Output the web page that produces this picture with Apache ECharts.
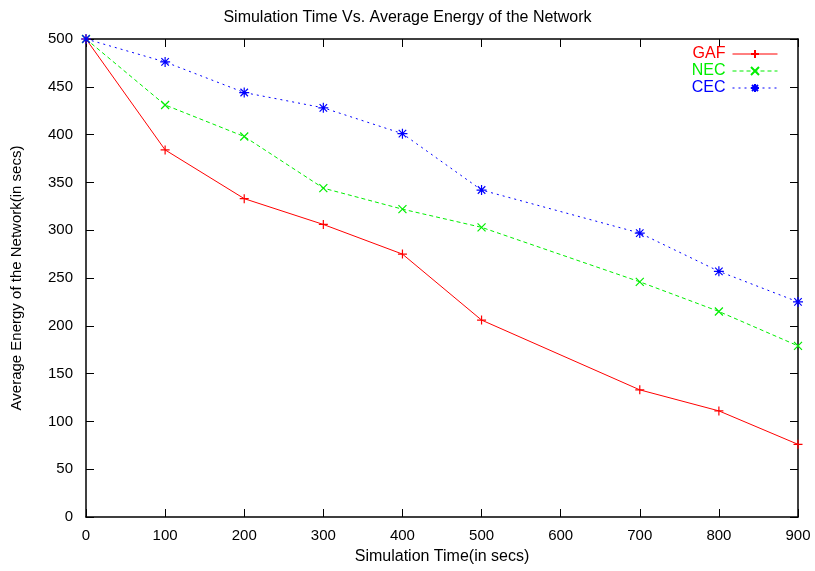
<!DOCTYPE html>
<html>
<head>
<meta charset="utf-8">
<script src="https://cdn.jsdelivr.net/npm/echarts@6/dist/echarts.min.js"></script>
<style>html,body{margin:0;padding:0;background:#fff}#c{width:815px;height:571px}</style>
</head>
<body>
<div id="c"></div>
<script>
var times = [0, 100, 200, 300, 400, 500, 700, 800, 900];
var gaf = [500, 384, 333, 306, 275, 206, 133, 111, 76];
var nec = [500, 431, 398, 344, 322, 303, 246, 215, 179];
var cec = [500, 476, 444, 428, 401, 342, 297, 257, 225];
var xTicks = [0, 100, 200, 300, 400, 500, 600, 700, 800, 900];
var yTicks = [0, 50, 100, 150, 200, 250, 300, 350, 400, 450, 500];

var FONT = 'Liberation Sans';
function pairs(vals) { return times.map(function (t, i) { return [t, vals[i]]; }); }

var plus = 'path://M0,-1L0,1M-1,0L1,0';
var cross = 'path://M-1,-1L1,1M-1,1L1,-1';
var star = 'path://M0,-1L0,1M-1,0L1,0M-0.75,-0.75L0.75,0.75M-0.75,0.75L0.75,-0.75';

function mkSeries(name, vals, color, type, sym, size) {
  return {
    name: name, type: 'line', data: pairs(vals),
    symbol: sym, symbolSize: size,
    showAllSymbol: true,
    itemStyle: { color: color, borderColor: color, borderWidth: 1.2 },
    lineStyle: { color: color, width: 1, type: type },
    emphasis: { disabled: true },
    animation: false
  };
}

var chart = echarts.init(document.getElementById('c'));
var axisCommon = {
  min: 0,
  axisLine: { show: true, onZero: false, lineStyle: { color: '#000', width: 1.5 } },
  axisTick: { show: true, inside: true, length: 8, lineStyle: { color: '#000', width: 1 } },
  splitLine: { show: false },
  axisLabel: { color: '#000', fontFamily: FONT, fontSize: 15 }
};
chart.setOption({
  animation: false,
  backgroundColor: '#fff',
  title: {
    text: 'Simulation Time Vs. Average Energy of the Network',
    left: 'center', top: 5,
    textStyle: { fontFamily: FONT, fontSize: 16, fontWeight: 'normal', color: '#000' }
  },
  legend: {
    orient: 'vertical', right: 32, top: 41, align: 'right',
    itemWidth: 45, itemHeight: 10, itemGap: 1,
    lineStyle: { width: 1 },
    textStyle: { fontFamily: FONT, fontSize: 16, padding: [0, 2, 0, 0] },
    data: [
      { name: 'GAF', textStyle: { color: '#ff0000' } },
      { name: 'NEC', textStyle: { color: '#00ee00' } },
      { name: 'CEC', textStyle: { color: '#0000ff' } }
    ]
  },
  grid: { left: 86, right: 17, top: 39, bottom: 54, containLabel: false },
  xAxis: [
    Object.assign({}, axisCommon, {
      type: 'value', max: 900, interval: 100,
      name: 'Simulation Time(in secs)', nameLocation: 'middle', nameGap: 32,
      nameTextStyle: { fontFamily: FONT, fontSize: 16, color: '#000' },
      axisLabel: Object.assign({}, axisCommon.axisLabel, { margin: 11, formatter: function (v) { return xTicks.indexOf(v) >= 0 ? String(v) : ''; } })
    }),
    Object.assign({}, axisCommon, {
      type: 'value', max: 900, interval: 100, position: 'top',
      axisLabel: { show: false }
    })
  ],
  yAxis: [
    Object.assign({}, axisCommon, {
      type: 'value', max: 500, interval: 50,
      name: 'Average Energy of the Network(in secs)', nameLocation: 'middle', nameGap: 62,
      nameTextStyle: { fontFamily: FONT, fontSize: 15, color: '#000' },
      axisLabel: Object.assign({}, axisCommon.axisLabel, { margin: 13, formatter: function (v) { return yTicks.indexOf(v) >= 0 ? String(v) : ''; } })
    }),
    Object.assign({}, axisCommon, {
      type: 'value', max: 500, interval: 50, position: 'right',
      axisLabel: { show: false }
    })
  ],
  series: [
    mkSeries('GAF', gaf, '#ff0000', 'solid', plus, 9),
    mkSeries('NEC', nec, '#00ee00', [4, 3], cross, 8),
    mkSeries('CEC', cec, '#0000ff', [2, 4], star, 10)
  ]
});
</script>
</body>
</html>
